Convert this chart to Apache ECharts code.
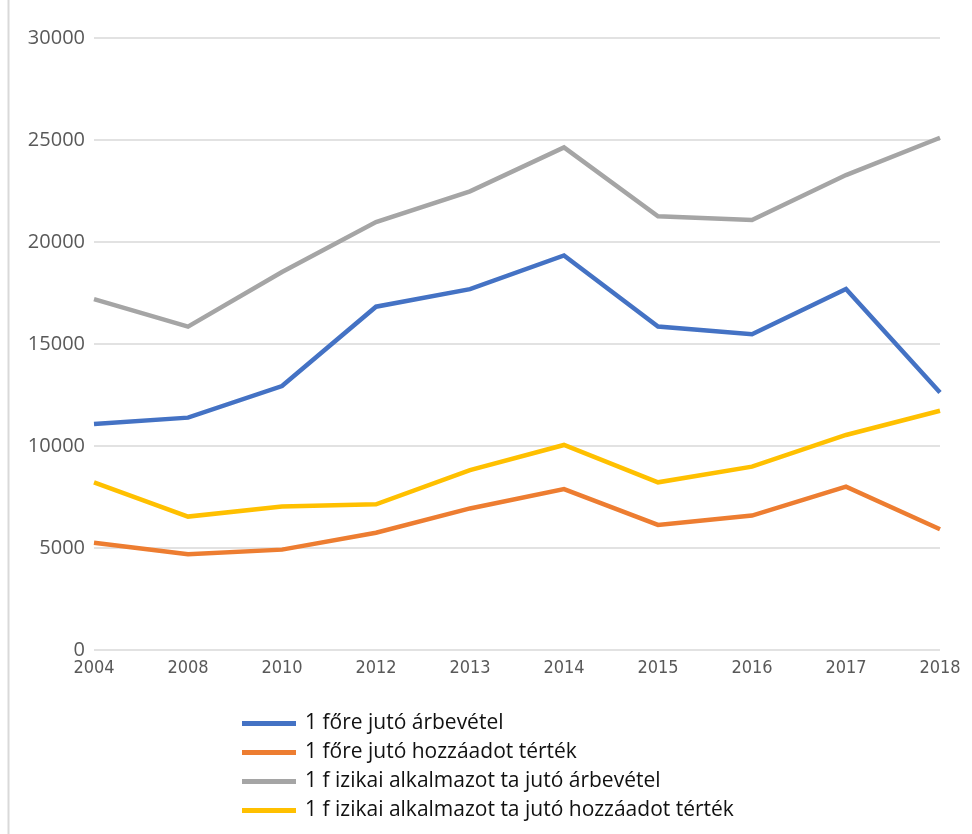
<!DOCTYPE html>
<html>
<head>
<meta charset="utf-8">
<script src="https://cdn.jsdelivr.net/npm/echarts@6/dist/echarts.min.js"></script>
<style>
  html, body { margin: 0; padding: 0; background: #fff; }
  #main { width: 972px; height: 834px; }
</style>
</head>
<body>
<div id="main"></div>
<script>
// years on the x axis
var years = ['2004', '2008', '2010', '2012', '2013', '2014', '2015', '2016', '2017', '2018'];

// series values
var arbevetel = [11080, 11390, 12940, 16830, 17690, 19340, 15860, 15480, 17700, 12620];
var hozzaadott = [5260, 4690, 4920, 5750, 6940, 7890, 6130, 6590, 8010, 5920];
var fizikaiArbevetel = [17200, 15850, 18530, 20980, 22480, 24640, 21260, 21080, 23280, 25110];
var fizikaiHozzaadott = [8220, 6540, 7030, 7140, 8820, 10050, 8220, 8990, 10540, 11730];

var seriesNames = [
    '1 főre jutó árbevétel',
    '1 főre jutó hozzáadot térték',
    '1 f izikai alkalmazot ta jutó árbevétel',
    '1 f izikai alkalmazot ta jutó hozzáadot térték'
];
var colors = ['#4472C4', '#ED7D31', '#A5A5A5', '#FFC000'];
var values = [arbevetel, hozzaadott, fizikaiArbevetel, fizikaiHozzaadott];

var myChart = echarts.init(document.getElementById('main'));

var series = [];
for (var i = 0; i < values.length; i++) {
    series.push({
        name: seriesNames[i],
        type: 'line',
        data: values[i],
        symbol: 'none',
        lineStyle: { width: 4.5, color: colors[i], cap: 'butt', join: 'miter' },
        itemStyle: { color: colors[i] },
        z: 10 - i
    });
}

var option = {
    animation: false,
    color: colors,
    grid: { left: 94, right: 32, top: 38, bottom: 184, containLabel: false },
    legend: {
        orient: 'vertical',
        left: 242,
        top: 713,
        padding: 0,
        icon: 'rect',
        itemWidth: 54,
        itemHeight: 5,
        itemGap: 8,
        textStyle: { fontFamily: 'Open Sans', fontSize: 21, color: '#111', padding: [0, 0, 0, 4] },
        data: seriesNames
    },
    xAxis: {
        type: 'category',
        data: years,
        boundaryGap: false,
        axisLine: { show: false },
        axisTick: { show: false },
        axisLabel: {
            fontFamily: "'DejaVu Sans Condensed', 'Liberation Sans', sans-serif",
            fontSize: 18, color: '#595959', margin: 9
        }
    },
    yAxis: {
        type: 'value',
        min: 0,
        max: 30000,
        interval: 5000,
        axisLine: { show: false },
        axisTick: { show: false },
        splitLine: { lineStyle: { color: '#d9d9d9', width: 1.5 } },
        axisLabel: {
            fontFamily: 'Open Sans', fontSize: 20, color: '#595959', margin: 9,
            formatter: function (v) { return String(v); }
        }
    },
    graphic: [{
        type: 'line',
        shape: { x1: 8.5, y1: 0, x2: 8.5, y2: 834 },
        style: { stroke: '#d9d9d9', lineWidth: 2 }
    }],
    series: series
};
myChart.setOption(option);

window.onresize = function() {
    myChart.resize();
};
</script>
</body>
</html>
